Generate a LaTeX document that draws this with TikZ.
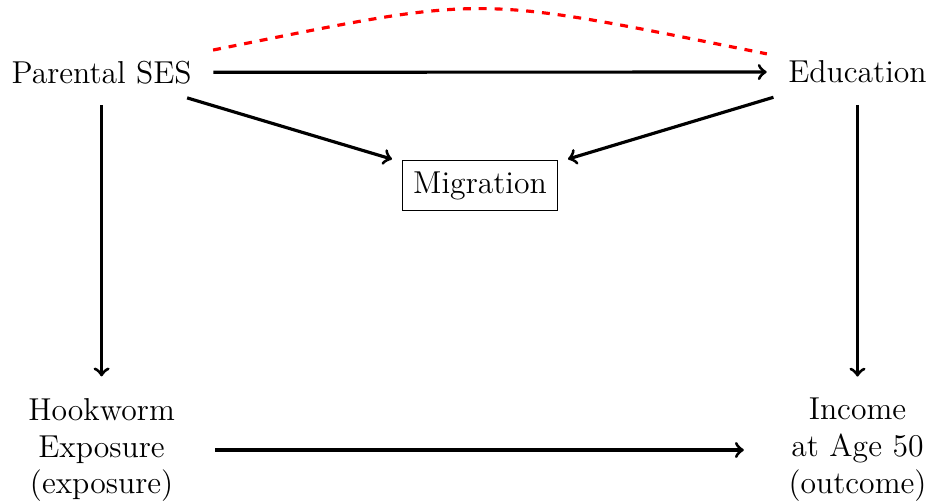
\documentclass[tikz,border=0pt]{standalone}
\usetikzlibrary{calc}
\begin{document}
\begin{tikzpicture}[x=0.3788pt, y=-0.3788pt,
  var/.style={font=\large, inner sep=4pt},
  multi/.style={var, text width=2.45cm, align=center},
  boxed/.style={var, draw, line width=0.4pt},
  edge/.style={->, line width=1.2pt, shorten <=4pt, shorten >=4pt},
  confound/.style={red, dashed, line width=1.2pt, shorten <=4pt, shorten >=4pt}]
  \useasboundingbox (0,0) rectangle (929,504);

  % variables of the causal graph
  \node[var]   (pses) at (101.6,72.3) {Parental SES};
  \node[var]   (edu)  at (857.5,72)   {Education};
  \node[boxed] (mig)  at (480,185.5)  {Migration};
  \node[multi] (hook) at (101.6,450)  {Hookworm\\Exposure\\(exposure)};
  \node[multi] (inc)  at (857.5,450)  {Income\\at Age 50\\(outcome)};

  % directed effects
  \draw[edge] (pses) -- (edu);
  \draw[edge] (pses) -- (mig);
  \draw[edge] (edu)  -- (mig);
  \draw[edge] (pses) -- (hook);
  \draw[edge] (edu)  -- (inc);
  \draw[edge] (hook) -- (inc);

  % unobserved common cause between parental SES and education
  \draw[confound] (pses) .. controls ($(pses)+(390,-78)$) and ($(edu)+(-390,-78)$) .. (edu);
\end{tikzpicture}
\end{document}
